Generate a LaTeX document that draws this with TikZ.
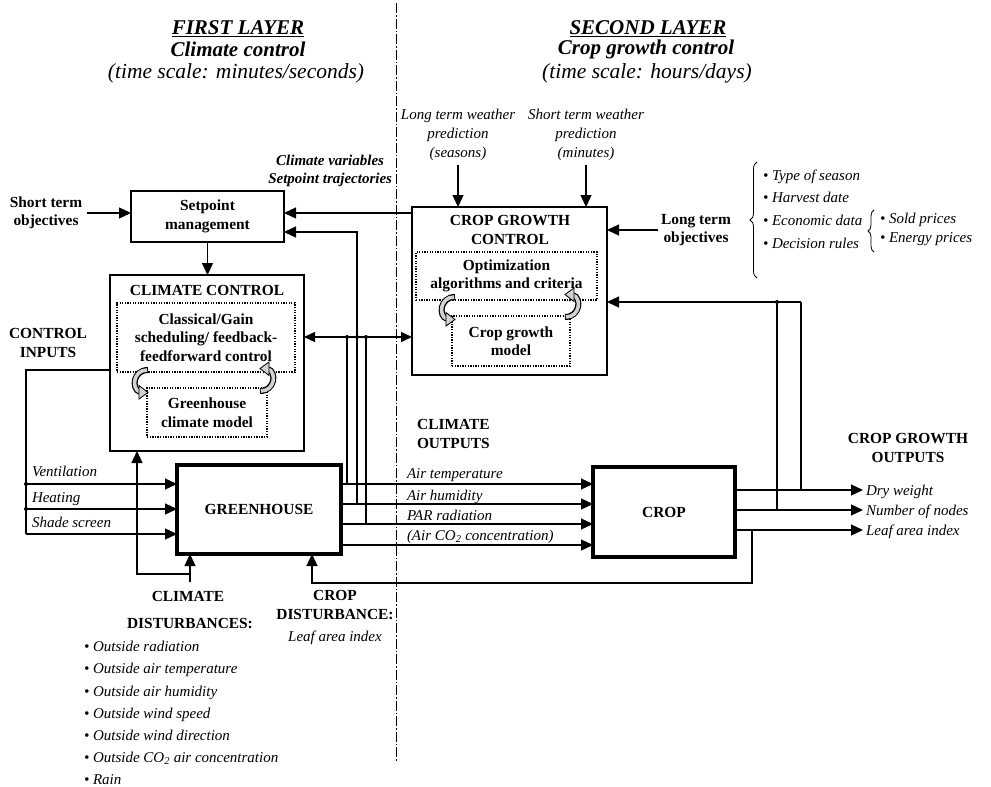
\documentclass[tikz,border=0pt]{standalone}
\usepackage{fontspec}
\setmainfont{Liberation Serif}
\usetikzlibrary{arrows.meta,decorations.pathreplacing,calc}
\tikzset{
  curl/.pic={
    \draw[line width=6pt] (8,-11) .. controls (-7,-11) and (-9,8) .. (0,11);
    \draw[line width=3.6pt, gray!35, shorten <=0.9pt] (8,-11) .. controls (-7,-11) and (-9,8) .. (0,11);
    \filldraw[fill=gray!35, draw=black, line width=0.8pt] (-1,4.5) -- (8,11.5) -- (-1,18) -- cycle;
  }
}
\begin{document}
\begin{tikzpicture}[x=1pt,y=-1pt,
  every node/.style={inner sep=0pt,outer sep=0pt,align=center},
  bl/.style={font=\fontsize{15.4}{18.5}\selectfont\bfseries},
  itl/.style={font=\fontsize{15}{19}\selectfont\itshape},
  bit/.style={font=\fontsize{15}{18}\selectfont\bfseries\itshape},
  hdr/.style={font=\fontsize{21}{24}\selectfont\bfseries\itshape},
  hdrs/.style={font=\fontsize{21.5}{24}\selectfont\itshape},
  wire/.style={line width=1.3pt},
  arr/.style={wire,-{Triangle[length=12pt,width=11pt]}},
  darr/.style={wire,{Triangle[length=11pt,width=10pt]}-{Triangle[length=11pt,width=10pt]}},
  box/.style={draw,line width=1.5pt},
  tbox/.style={draw,line width=3.5pt},
  dbox/.style={draw,line width=1.3pt,dash pattern=on 1.3pt off 1.3pt}
]
\useasboundingbox (0,0) rectangle (991,787);

% headers
\node[hdr] (h1a) at (238,29) {\underline{FIRST LAYER}};
\node[hdr] (h1b) at (238,49) {Climate control};
\node[hdrs] (h1c) at (236,73) {(time scale: minutes/seconds)};
\node[hdr] (h2a) at (648,29) {\underline{SECOND LAYER}};
\node[hdr] (h2b) at (646,49) {Crop growth control};
\node[hdrs] (h2c) at (647,73) {(time scale: hours/days)};

% layer divider
\draw[line width=1pt, dash pattern=on 10pt off 2pt on 1.5pt off 2pt] (396,3) -- (396,762);

% main boxes
\node[box, bl, minimum width=153pt, minimum height=51pt] (setpoint) at (207.5,216.5) {Setpoint\\management};
\node[box, minimum width=194pt, minimum height=176pt] (cc) at (207,363) {};
\node[bl] (cct) at (207,290) {CLIMATE CONTROL};
\node[dbox, bl, minimum width=178pt, minimum height=69pt] (cc1) at (206,337.5) {Classical/Gain\\scheduling/ feedback-\\feedforward control};
\node[dbox, bl, minimum width=120pt, minimum height=49pt] (cc2) at (207,412.5) {Greenhouse\\climate model};

\node[box, minimum width=195pt, minimum height=168pt] (cgc) at (509.5,291) {};
\node[bl] (cgct) at (510,230) {CROP GROWTH\\CONTROL};
\node[dbox, bl, minimum width=181pt, minimum height=48pt] (cgc1) at (506.5,276) {Optimization\\algorithms and criteria};
\node[dbox, bl, minimum width=118pt, minimum height=50pt] (cgc2) at (511,341) {Crop growth\\model};

\node[tbox, bl, minimum width=164pt, minimum height=89pt] (gh) at (259,509.5) {GREENHOUSE};
\node[tbox, bl, minimum width=142pt, minimum height=90pt] (crop) at (664,512) {CROP};

% curly arrows
\pic at (140,381) {curl};
\pic[rotate=180] at (268,380) {curl};
\pic at (447,308) {curl};
\pic[rotate=180] at (573,306) {curl};

% setpoint inputs
\node[bl] (sto) at (46,213) {Short term\\objectives};
\draw[arr] ([xshift=5pt]sto.east) -- (sto.east -| setpoint.west);
\draw[arr] (setpoint.south) -- (setpoint.south |- cc.north);
\coordinate (sp1) at (setpoint.east |- sto.east);
\draw[arr] (cgc.west |- sp1) -- (sp1);
\node[bit, anchor=east] (cvsp) at (392,171) {Climate variables\\Setpoint trajectories};

% crop growth control inputs
\node[itl] (ltw) at (458,135) {Long term weather\\prediction\\(seasons)};
\node[itl] (stw) at (586,135) {Short term weather\\prediction\\(minutes)};
\draw[arr] ([yshift=-4pt]ltw.south) -- (ltw.south |- cgc.north);
\draw[arr] ([yshift=-4pt]stw.south) -- (stw.south |- cgc.north);
\node[bl] (lto) at (696,230) {Long term\\objectives};
\draw[arr] ([xshift=-3pt]lto.west) -- (lto.west -| cgc.east);

% objectives list
\draw[line width=0.8pt, decorate, decoration={brace, amplitude=7pt}] (757,278) -- (757,162);
\node[itl, anchor=base west] (o1) at (763,180) {\textbullet\ Type of season};
\node[itl, anchor=base west] (o2) at (763,202) {\textbullet\ Harvest date};
\node[itl, anchor=base west] (o3) at (763,225) {\textbullet\ Economic data};
\node[itl, anchor=base west] (o4) at (763,248) {\textbullet\ Decision rules};
\draw[line width=0.8pt, decorate, decoration={brace, amplitude=6pt}] (874,252) -- (874,210);
\node[itl, anchor=base west] (p1) at (880,223) {\textbullet\ Sold prices};
\node[itl, anchor=base west] (p2) at (880,242) {\textbullet\ Energy prices};

% climate control <-> crop growth control
\coordinate (dy) at (0,337);
\draw[darr] (cc.east |- dy) -- (cgc.west |- dy);

% greenhouse outputs
\coordinate (ya) at (0,484);
\coordinate (yb) at (0,504);
\coordinate (yc) at (0,524);
\coordinate (yd) at (0,545);
\draw[arr] (gh.east |- ya) -- (crop.west |- ya);
\draw[arr] (gh.east |- yb) -- (crop.west |- yb);
\draw[arr] (gh.east |- yc) -- (crop.west |- yc);
\draw[arr] (gh.east |- yd) -- (crop.west |- yd);
\coordinate (ja) at (347,337);
\coordinate (jb) at (357,232);
\coordinate (jc) at (366,337);
\draw[wire] (ja |- ya) -- (ja);
\draw[arr] (jb |- yb) -- (jb) -- (setpoint.east |- jb);
\draw[wire] (jc |- yc) -- (jc);
\fill (ja) circle (2pt);
\fill (jb |- dy) circle (2pt);
\fill (jc) circle (2pt);

\node[bl, anchor=west] (cout) at (417,434) {CLIMATE\\OUTPUTS};
\node[itl, anchor=base west] (l1) at (407,478) {Air temperature};
\node[itl, anchor=base west] (l2) at (407,500) {Air humidity};
\node[itl, anchor=base west] (l3) at (407,520) {PAR radiation};
\node[itl, anchor=base west] (l4) at (407,540) {(Air CO\textsubscript{2} concentration)};

% control inputs
\node[bl] (cin) at (48,343) {CONTROL\\INPUTS};
\coordinate (ci) at (26,370);
\coordinate (yv) at (0,484);
\coordinate (yh) at (0,509);
\coordinate (ys) at (0,534);
\draw[wire] (cc.west |- ci) -- (ci) -- (ci |- ys);
\draw[arr] (ci |- yv) -- (gh.west |- yv);
\draw[arr] (ci |- yh) -- (gh.west |- yh);
\draw[arr] (ci |- ys) -- (gh.west |- ys);
\fill (ci |- yv) circle (2pt);
\fill (ci |- yh) circle (2pt);
\node[itl, anchor=base west] (iv) at (32,476) {Ventilation};
\node[itl, anchor=base west] (ih) at (32,502) {Heating};
\node[itl, anchor=base west] (is) at (32,527) {Shade screen};

% crop outputs
\coordinate (za) at (0,490);
\coordinate (zb) at (0,510);
\coordinate (zc) at (0,530);
\coordinate (xe) at (863,0);
\draw[arr] (crop.east |- za) -- (xe |- za);
\draw[arr] (crop.east |- zb) -- (xe |- zb);
\draw[arr] (crop.east |- zc) -- (xe |- zc);
\node[itl, anchor=base west] (c1) at (866,495) {Dry weight};
\node[itl, anchor=base west] (c2) at (866,515) {Number of nodes};
\node[itl, anchor=base west] (c3) at (866,535) {Leaf area index};
\node[bl] (cgo) at (908,448) {CROP GROWTH\\OUTPUTS};
\coordinate (fa) at (777,302);
\coordinate (fb) at (801,302);
\draw[wire] (fb |- za) -- (fb);
\draw[arr] (fb) -- (cgc.east |- fb);
\draw[wire] (fa |- zb) -- (fa);
\fill (fa) circle (2pt);

% crop disturbance feedback
\coordinate (lz) at (752,583);
\coordinate (ld) at (312,583);
\draw[arr] (lz |- zc) -- (lz) -- (ld) -- (ld |- gh.south);

% climate disturbances
\coordinate (cd) at (190,582);
\coordinate (cdb) at (137,574);
\draw[arr] (cd) -- (cd |- gh.south);
\draw[arr] (cd |- cdb) -- (cdb) -- (cdb |- cc.south);
\node[bl] (cdt1) at (188,596) {CLIMATE};
\node[bl] (cdt2) at (190,624) {DISTURBANCES:};
\node[itl, anchor=base west] (d1) at (84,651) {\textbullet\ Outside radiation};
\node[itl, anchor=base west] (d2) at (84,673) {\textbullet\ Outside air temperature};
\node[itl, anchor=base west] (d3) at (84,696) {\textbullet\ Outside air humidity};
\node[itl, anchor=base west] (d4) at (84,718) {\textbullet\ Outside wind speed};
\node[itl, anchor=base west] (d5) at (84,740) {\textbullet\ Outside wind direction};
\node[itl, anchor=base west] (d6) at (84,762) {\textbullet\ Outside CO\textsubscript{2} air concentration};
\node[itl, anchor=base west] (d7) at (84,784) {\textbullet\ Rain};

\node[bl] (cdist) at (335,605) {CROP\\DISTURBANCE:};
\node[itl] (cdl) at (335,638) {Leaf area index};
\end{tikzpicture}
\end{document}
